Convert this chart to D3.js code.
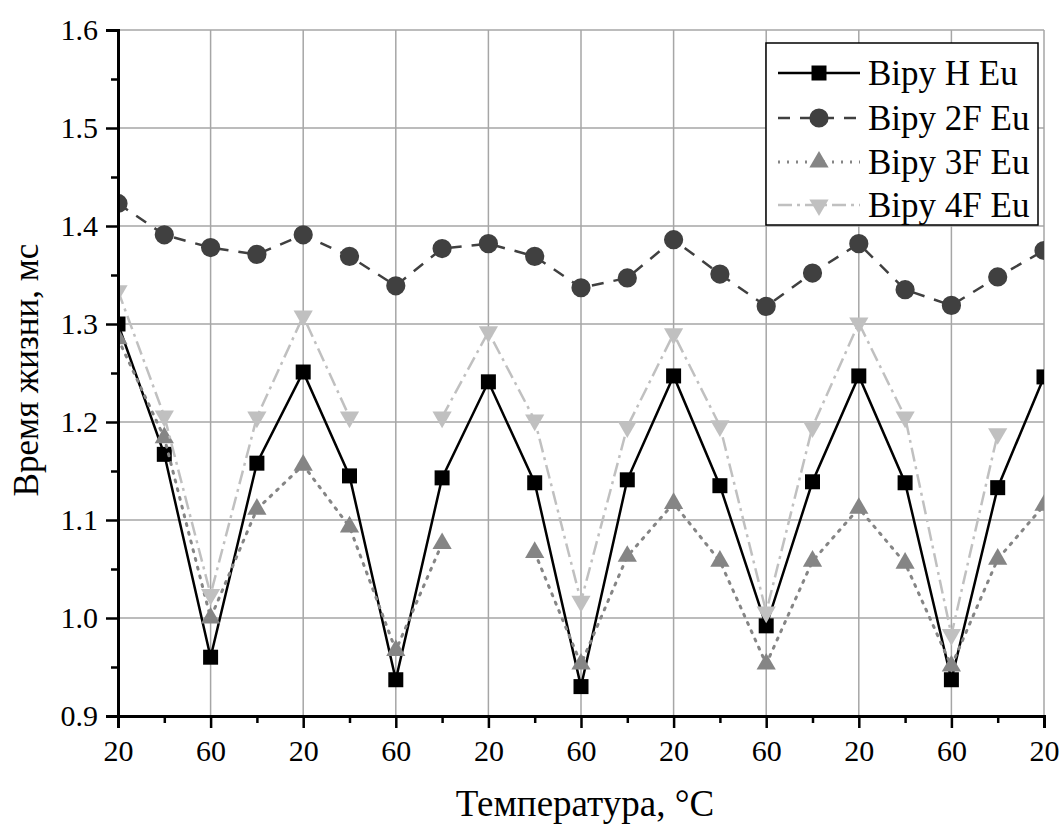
<!DOCTYPE html>
<html><head><meta charset="utf-8">
<script src="https://cdn.jsdelivr.net/npm/d3@7"></script>
<style>
html,body{margin:0;padding:0;background:#fff;}
</style></head>
<body>
<svg id="chart" width="1063" height="829"></svg>
<script>
// ---- data ----
const temperatures = [20,40,60,40,20,40,60,40,20,40,60,40,20,40,60,40,20,40,60,40,20];
const yTicks = [0.9,1.0,1.1,1.2,1.3,1.4,1.5,1.6];
const seriesNames = ["Bipy H Eu","Bipy 2F Eu","Bipy 3F Eu","Bipy 4F Eu"];
const bipyH  = [1.300,1.167,0.960,1.158,1.251,1.145,0.937,1.143,1.241,1.138,0.930,1.141,1.247,1.135,0.992,1.139,1.247,1.138,0.937,1.133,1.246];
const bipy2F = [1.423,1.391,1.378,1.371,1.391,1.369,1.339,1.377,1.382,1.369,1.337,1.347,1.386,1.351,1.318,1.352,1.382,1.335,1.319,1.348,1.375];
const bipy3F = [1.285,1.184,1.000,1.111,1.156,1.093,0.967,1.076,null,1.067,0.953,1.063,1.117,1.058,0.953,1.058,1.112,1.056,0.951,1.060,1.115];
const bipy4F = [1.334,1.206,1.024,1.205,1.308,1.205,null,1.205,1.292,1.202,1.017,1.195,1.290,1.196,1.006,1.195,1.301,1.205,0.983,1.188,null];

const FONT = 'Liberation Serif, Tinos, Times New Roman, Times, Nimbus Roman, FreeSerif, Noto Serif, DejaVu Serif, serif';
const styles = [
  {values: bipyH,  color:"#000000", dash:null,          width:2.5, symbol:d3.symbolSquare,   size:225, rotate:0},
  {values: bipy2F, color:"#404040", dash:"12,10",       width:2.5, symbol:d3.symbolCircle,   size:290, rotate:0},
  {values: bipy3F, color:"#858585", dash:"2,7",         width:3,   symbol:d3.symbolTriangle, size:160, rotate:0},
  {values: bipy4F, color:"#c0c0c0", dash:"14,5,3,5",    width:2.5, symbol:d3.symbolTriangle, size:160, rotate:180}
];

const svg = d3.select("#chart").style("font-family", FONT);
const L = 118, R = 1044, T = 30, B = 716;
const x = d3.scaleLinear().domain([0, temperatures.length-1]).range([L, R]);
const y = d3.scaleLinear().domain([0.9, 1.6]).range([B, T]);

// grid
const grid = svg.append("g");
const majorIdx = d3.range(0, temperatures.length, 2);
grid.selectAll("line.v").data(majorIdx).join("line")
  .attr("x1", d=>x(d)).attr("x2", d=>x(d)).attr("y1", T).attr("y2", B)
  .attr("stroke","#a6a6a6").attr("stroke-width",1.5);
grid.selectAll("line.h").data(yTicks).join("line")
  .attr("x1", L).attr("x2", R).attr("y1", d=>y(d)).attr("y2", d=>y(d))
  .attr("stroke","#a6a6a6").attr("stroke-width",1.5);

// clip
svg.append("clipPath").attr("id","clip").append("rect")
  .attr("x", L).attr("y", 0).attr("width", R-L).attr("height", 829);

const plot = svg.append("g").attr("clip-path","url(#clip)");
styles.forEach(s => {
  const line = d3.line().defined(d=>d!=null).x((d,i)=>x(i)).y(d=>y(d));
  plot.append("path").datum(s.values).attr("d", line)
    .attr("fill","none").attr("stroke", s.color).attr("stroke-width", s.width)
    .attr("stroke-dasharray", s.dash).attr("stroke-linecap", s.dash==="2,7"?"round":"butt");
  const sym = d3.symbol().type(s.symbol).size(s.size);
  plot.selectAll(null).data(s.values.map((v,i)=>({v,i})).filter(d=>d.v!=null)).join("path")
    .attr("d", sym)
    .attr("transform", d=>`translate(${x(d.i)},${y(d.v)}) rotate(${s.rotate})`)
    .attr("fill", s.color);
});

// axes
const xAxis = d3.axisBottom(x).tickValues(majorIdx).tickSize(12).tickPadding(12)
  .tickFormat(i=>temperatures[i]);
const gx = svg.append("g").attr("transform",`translate(0,${B})`).call(xAxis);
const xMinor = d3.axisBottom(x).tickValues(d3.range(1, temperatures.length, 2)).tickSize(7).tickFormat("");
const gxm = svg.append("g").attr("transform",`translate(0,${B})`).call(xMinor);
const yAxis = d3.axisLeft(y).tickValues(yTicks).tickSize(12).tickPadding(8).tickFormat(d3.format(".1f"));
const gy = svg.append("g").attr("transform",`translate(${L},0)`).call(yAxis);
const yMinor = d3.axisLeft(y).tickValues(d3.range(0.95,1.6,0.1)).tickSize(7).tickFormat("");
const gym = svg.append("g").attr("transform",`translate(${L},0)`).call(yMinor);
[gx,gxm,gy,gym].forEach(g=>{
  g.attr("font-family", null).style("font-family", FONT);
  g.select(".domain").attr("stroke","#000").attr("stroke-width",3);
  g.selectAll(".tick line").attr("stroke","#000").attr("stroke-width",2.5);
  g.selectAll("text").style("font-family",FONT).attr("font-size",30).attr("fill","#000");
});
gxm.select(".domain").remove(); gym.select(".domain").remove();

// titles
svg.append("text").attr("x", 585).attr("y", 816).attr("text-anchor","middle")
  .style("font-family",FONT).attr("font-size",37).text("Температура, °C");
svg.append("text").attr("transform",`translate(38,370) rotate(-90)`).attr("text-anchor","middle")
  .style("font-family",FONT).attr("font-size",35).text("Время жизни, мс");

// legend
const lg = svg.append("g");
lg.append("rect").attr("x",766).attr("y",43).attr("width",272).attr("height",182)
  .attr("fill","#fff").attr("stroke","#000").attr("stroke-width",1.5);
const rowY = [73,118,162,205];
styles.forEach((s,k)=>{
  lg.append("line").attr("x1",778).attr("x2",860).attr("y1",rowY[k]).attr("y2",rowY[k])
    .attr("stroke",s.color).attr("stroke-width",s.width).attr("stroke-dasharray",s.dash);
  lg.append("path").attr("d", d3.symbol().type(s.symbol).size(s.size)())
    .attr("transform",`translate(819,${rowY[k]}) rotate(${s.rotate})`).attr("fill",s.color);
  lg.append("text").attr("x",868).attr("y",rowY[k]+12).style("font-family",FONT).attr("font-size",35).text(seriesNames[k]);
});
</script>
</body></html>
